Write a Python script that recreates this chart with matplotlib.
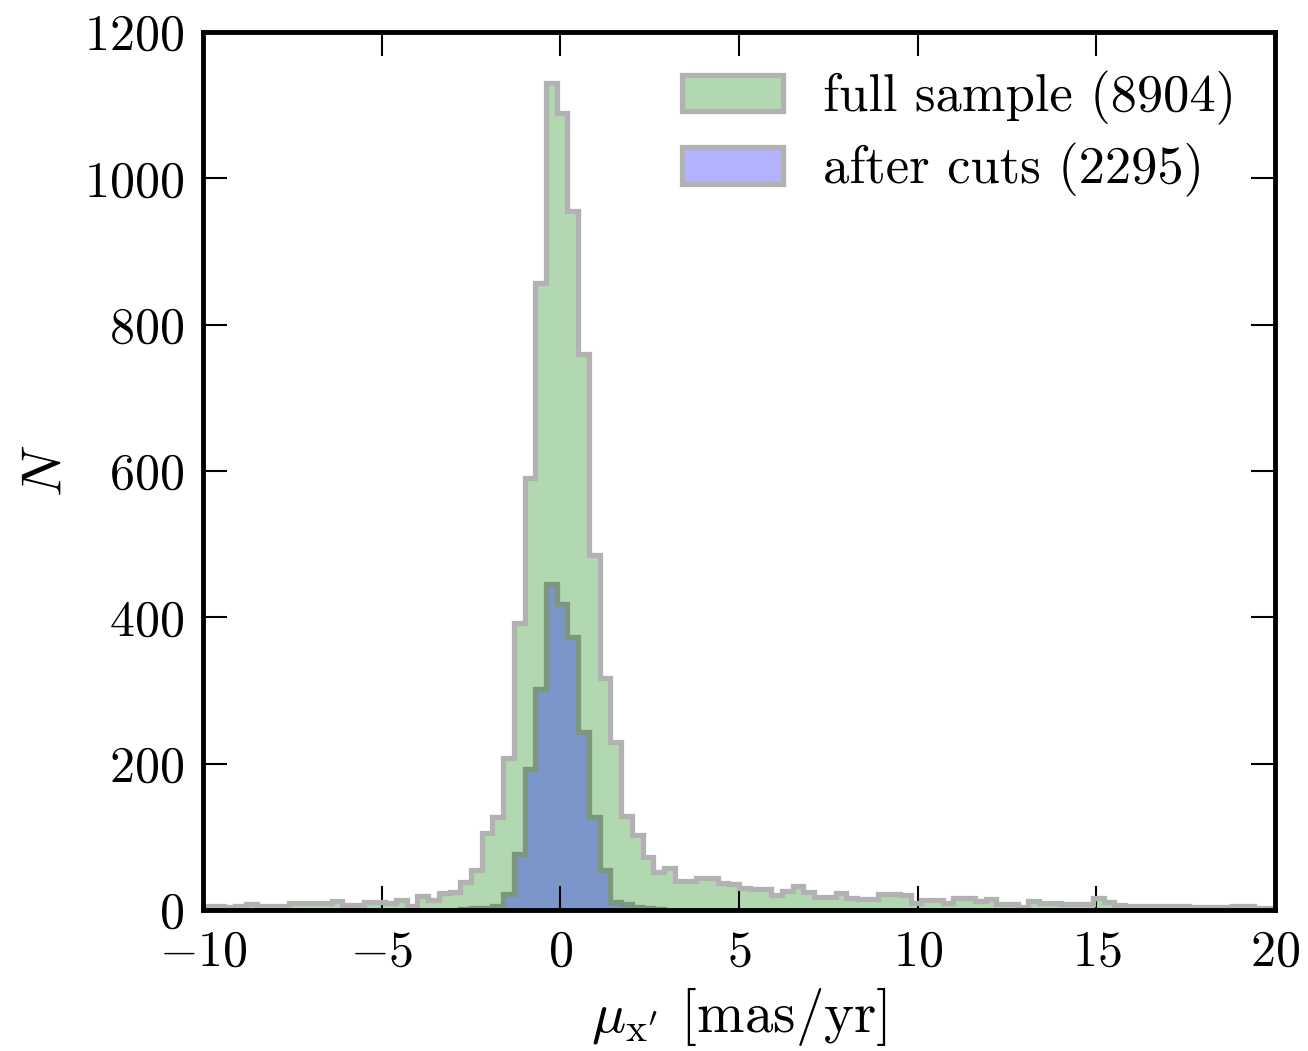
import numpy as np
import matplotlib
matplotlib.use("Agg")
import matplotlib.pyplot as plt
from matplotlib.patches import Patch

plt.rcParams['font.family'] = 'serif'
plt.rcParams['font.serif'] = ['cmr10']
plt.rcParams['mathtext.fontset'] = 'cm'
plt.rcParams['axes.formatter.use_mathtext'] = True
plt.rcParams['font.size'] = 36

# 100 bins of width 0.3 between -10 and 20
edges = np.linspace(-10, 20, 101)

full_counts = [5, 6, 4, 6, 8, 5, 5, 5, 9, 9,
               10, 10, 12, 7, 7, 11, 11, 10, 14, 6,
               19, 14, 23, 25, 38, 55, 105, 127, 208, 392,
               590, 857, 1130, 1089, 955, 760, 485, 317, 230, 128,
               103, 73, 52, 57, 40, 40, 44, 44, 37, 36,
               30, 29, 29, 20, 26, 33, 25, 18, 18, 23,
               16, 15, 15, 22, 22, 21, 9, 14, 14, 10,
               16, 16, 12, 15, 8, 8, 4, 12, 10, 9,
               8, 8, 8, 16, 11, 7, 5, 5, 5, 5,
               6, 6, 4, 4, 4, 4, 5, 5, 3, 3]

# after cuts: only bins 24..42 are populated
cut_first_bin = 24
cut_counts = [1, 2, 2, 6, 22, 76, 193, 302, 445, 418,
              373, 243, 127, 54, 11, 8, 4, 2, 1]

full_label = "full sample (8904)"
cut_label = "after cuts (2295)"

# the outlines look like black at 30% laid on the patch as a group,
# so use opaque greys for them
edge_white = (0.698, 0.698, 0.698)
edge_green = (0.49, 0.592, 0.49)
lw = 3.8

fig = plt.figure(figsize=(13.08, 10.51), dpi=100)
ax = fig.add_axes([0.1552, 0.1342, 0.8196, 0.8354])

centers = 0.5 * (edges[:-1] + edges[1:])
ax.hist(centers, bins=edges, weights=full_counts, histtype='stepfilled',
        color='g', alpha=0.3, lw=0)
ax.hist(centers, bins=edges, weights=full_counts, histtype='step',
        color=edge_white, lw=lw)

cut_edges = edges[cut_first_bin:cut_first_bin + len(cut_counts) + 1]
cut_centers = 0.5 * (cut_edges[:-1] + cut_edges[1:])
ax.hist(cut_centers, bins=cut_edges, weights=cut_counts, histtype='stepfilled',
        color='b', alpha=0.3, lw=0)
ax.hist(cut_centers, bins=cut_edges, weights=cut_counts, histtype='step',
        color=edge_green, lw=lw)

ax.set_xlim(-10, 20)
ax.set_ylim(0, 1200)
ax.set_xticks([-10, -5, 0, 5, 10, 15, 20])
ax.set_yticks([0, 200, 400, 600, 800, 1000, 1200])
ax.tick_params(direction='in', top=True, right=True, length=17, width=1.5, pad=14)
for s in ax.spines.values():
    s.set_linewidth(3.5)

ax.set_xlabel(r"$\mu_{\rm x'}$ [mas/yr]", fontsize=41, labelpad=8)
ax.set_ylabel(r"$N$", fontsize=41, labelpad=8)

handles = [Patch(facecolor=(0, 0.5, 0, 0.3), edgecolor=edge_white, lw=lw),
           Patch(facecolor=(0, 0, 1, 0.3), edgecolor=edge_white, lw=lw)]
ax.legend(handles, [full_label, cut_label], loc='upper right', frameon=False,
          fontsize=37.8, borderaxespad=0.34, labelspacing=0.35,
          handlelength=1.92, handleheight=0.7, handletextpad=0.77)

fig.savefig("out.png", dpi=100)
